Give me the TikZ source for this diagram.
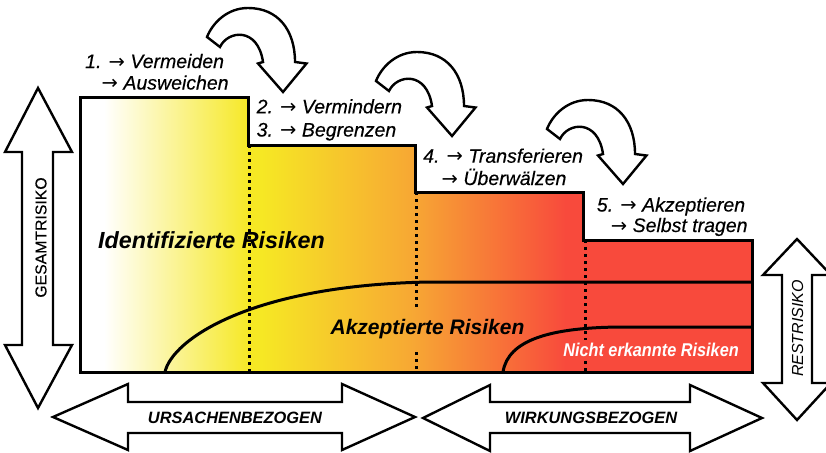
\documentclass[tikz,border=0pt]{standalone}
\usepackage{fontspec}
\setmainfont{Liberation Sans}
\newfontfamily\stepfont[FakeBold=0.35]{Liberation Sans Italic}
\newfontfamily\sidefont[FakeBold=0.3]{Liberation Sans}
\newfontfamily\arrowfont{DejaVu Sans}
\newcommand{\ra}{{\arrowfont →}}
\definecolor{ryellow}{RGB}{246,232,36}
\definecolor{rorange}{RGB}{247,166,52}
\definecolor{rred}{RGB}{248,74,60}

\tikzset{
  bendarrow/.pic={
    \draw[fatarrow] (-76,-55) -- (-63,-45)
      .. controls (-55,-62) and (-25,-65) .. (-20,-30)
      -- (-25,-28.5) -- (0,0) -- (23.5,-28.5) -- (12,-30)
      .. controls (12,-62) and (-5,-84) .. (-35,-84)
      .. controls (-55,-84) and (-70,-70) .. cycle;
  }
}

\begin{document}
\begin{tikzpicture}[x=1pt,y=-1pt,
  outline/.style={draw=black,line width=3pt,line join=miter},
  divider/.style={draw=black,line width=3pt,dash pattern=on 3pt off 4pt},
  boundary/.style={draw=black,line width=3pt},
  fatarrow/.style={draw=black,fill=white,line width=2.4pt,line join=miter},
  steplabel/.style={inner sep=0pt,anchor=base west,font=\fontsize{19.5}{21}\stepfont},
  zone/.style={inner sep=0pt,anchor=base},
  axislabel/.style={inner sep=0pt,anchor=base,font=\fontsize{16.4}{18}\selectfont\bfseries\itshape}
]
\clip (0,0) rectangle (826,452);

% colour ramp inside the staircase
\begin{scope}
  \clip (80,97) -- (248,97) -- (248,145) -- (415,145) -- (415,192)
        -- (583,192) -- (583,240) -- (752,240) -- (752,372) -- (80,372) -- cycle;
  \fill[white] (80,97) rectangle (105,372);
  \shade[left color=white,right color=ryellow] (104,97) rectangle (250,372);
  \fill[ryellow] (249,97) rectangle (262,372);
  \shade[left color=ryellow,right color=rorange] (261,97) rectangle (416,372);
  \shade[left color=rorange,right color=rred] (415,97) rectangle (566,372);
  \fill[rred] (565,97) rectangle (752,372);
\end{scope}

% dotted step dividers
\draw[divider] (249,145) -- (249,372);
\draw[divider] (416,192) -- (416,310);
\draw[divider] (416,352) -- (416,372);
\draw[divider] (585,240) -- (585,340);
\draw[divider] (585,361) -- (585,372);

% boundaries of accepted and unrecognised risks
\draw[boundary] (165,372) .. controls (172,340) and (250,285) .. (430,282) -- (752,282);
\draw[boundary] (503,372) .. controls (508,340) and (550,327) .. (625,327) -- (752,327);

% staircase outline
\draw[outline] (80,97) -- (248,97) -- (248,145) -- (415,145) -- (415,192)
  -- (583,192) -- (583,240) -- (752,240) -- (752,372) -- (80,372) -- cycle;

% measures
\node[steplabel] (s1a) at (85,68) {1. \ra{} Vermeiden};
\node[steplabel] (s1b) at (101.5,89.5) {\ra{} Ausweichen};
\node[steplabel] (s2) at (256.5,113.3) {2. \ra{} Vermindern};
\node[steplabel] (s3) at (256.5,136.5) {3. \ra{} Begrenzen};
\node[steplabel] (s4a) at (423,162.7) {4. \ra{} Transferieren};
\node[steplabel] (s4b) at (441.5,185) {\ra{} Überwälzen};
\node[steplabel] (s5a) at (596.7,211.5) {5. \ra{} Akzeptieren};
\node[steplabel] (s5b) at (610.7,232) {\ra{} Selbst tragen};

% risk zones
\node[zone,font=\fontsize{23.3}{26}\selectfont\bfseries\itshape] (ident) at (211.5,248) {Identifizierte Risiken};
\node[zone,font=\fontsize{21}{24}\selectfont\bfseries\itshape] (akz) at (427.5,334) {Akzeptierte Risiken};
\node[zone,text=white,font=\fontsize{18.5}{20}\selectfont\bfseries\itshape] (nicht) at (651,356) {\scalebox{0.88}[1]{Nicht erkannte Risiken}};

% bent arrows between the steps
\pic (b1) at (283,92) {bendarrow};
\pic (b2) at (452,136) {bendarrow};
\pic (b3) at (623,184) {bendarrow};

% double arrows
\draw[fatarrow] (38,88) -- (72,152) -- (53,152) -- (53,345) -- (72,345) -- (38,408)
  -- (5,345) -- (22,345) -- (22,152) -- (5,152) -- cycle;
\draw[fatarrow] (797,239) -- (831,275) -- (812,275) -- (812,383) -- (831,383) -- (797,420)
  -- (763,383) -- (782,383) -- (782,275) -- (763,275) -- cycle;
\draw[fatarrow] (53,417) -- (128,384) -- (128,402) -- (342,402) -- (342,384) -- (415,417)
  -- (342,450) -- (342,433) -- (128,433) -- (128,450) -- cycle;
\draw[fatarrow] (423,418) -- (490,385) -- (490,402) -- (690,402) -- (690,385) -- (762,418)
  -- (690,451) -- (690,433) -- (490,433) -- (490,451) -- cycle;

\node[rotate=90,inner sep=0pt,font=\fontsize{15.8}{17}\sidefont] (gesamt) at (41,237.5) {GESAMTRISIKO};
\node[rotate=90,inner sep=0pt,font=\fontsize{16}{18}\selectfont\itshape] (rest) at (797.5,328.5) {RESTRISIKO};
\node[axislabel] (ursache) at (235,423.3) {URSACHENBEZOGEN};
\node[axislabel] (wirkung) at (591,423.3) {WIRKUNGSBEZOGEN};
\end{tikzpicture}
\end{document}
